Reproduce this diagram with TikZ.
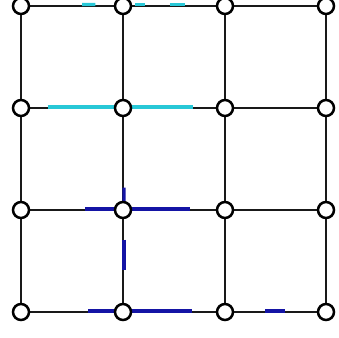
\documentclass[tikz,border=0pt]{standalone}
\usetikzlibrary{calc}
\definecolor{hlcyan}{RGB}{40,200,215}
\definecolor{hlblue}{RGB}{20,20,165}
\tikzset{
  vtx/.style={circle,draw=black,fill=white,line width=1.9pt,minimum size=12pt,inner sep=0pt},
  edge/.style={draw=black!90,line width=1.8pt},
  hlc/.style={draw=hlcyan,line width=2.6pt},
  hlb/.style={draw=hlblue,line width=2.6pt}
}
\begin{document}
\begin{tikzpicture}[x=0.75pt,y=-0.75pt]
\useasboundingbox (0,0) rectangle (339,338);
% node positions
\foreach \r/\yy in {1/6,2/108,3/210,4/312}{
  \foreach \c/\xx in {1/21,2/123,3/225,4/326}{
    \coordinate (p\r\c) at (\xx,\yy);
  }
}
% grid edges
\foreach \r in {1,2,3,4}{
  \draw[edge] (p\r1) -- (p\r2) -- (p\r3) -- (p\r4);
}
\foreach \c in {1,2,3,4}{
  \draw[edge] (p1\c) -- (p2\c) -- (p3\c) -- (p4\c);
}
% highlights
\draw[hlc] ($(p11)!0.60!(p12)+(0,-1.5)$) -- ($(p11)!0.73!(p12)+(0,-1.5)$);
\draw[hlc] ($(p12)!0.12!(p13)+(0,-1.5)$) -- ($(p12)!0.22!(p13)+(0,-1.5)$);
\draw[hlc] ($(p12)!0.46!(p13)+(0,-1.5)$) -- ($(p12)!0.61!(p13)+(0,-1.5)$);
\draw[hlc] ($(p21)!0.26!(p22)+(0,-1)$) -- ($(p22)!0.69!(p23)+(0,-1)$);
\draw[hlb] ($(p31)!0.63!(p32)+(0,-1)$) -- ($(p32)!0.66!(p33)+(0,-1)$);
\draw[hlb] ($(p22)!0.78!(p32)+(1,0)$) -- ($(p32)+(1,0)$);
\draw[hlb] ($(p32)!0.29!(p42)+(1,0)$) -- ($(p32)!0.59!(p42)+(1,0)$);
\draw[hlb] ($(p41)!0.66!(p42)+(0,-1)$) -- ($(p42)!0.68!(p43)+(0,-1)$);
\draw[hlb] ($(p43)!0.40!(p44)+(0,-1)$) -- ($(p43)!0.59!(p44)+(0,-1)$);
% vertices
\foreach \r in {1,2,3,4}{
  \foreach \c in {1,2,3,4}{
    \node[vtx] (n\r\c) at (p\r\c) {};
  }
}
\end{tikzpicture}
\end{document}
